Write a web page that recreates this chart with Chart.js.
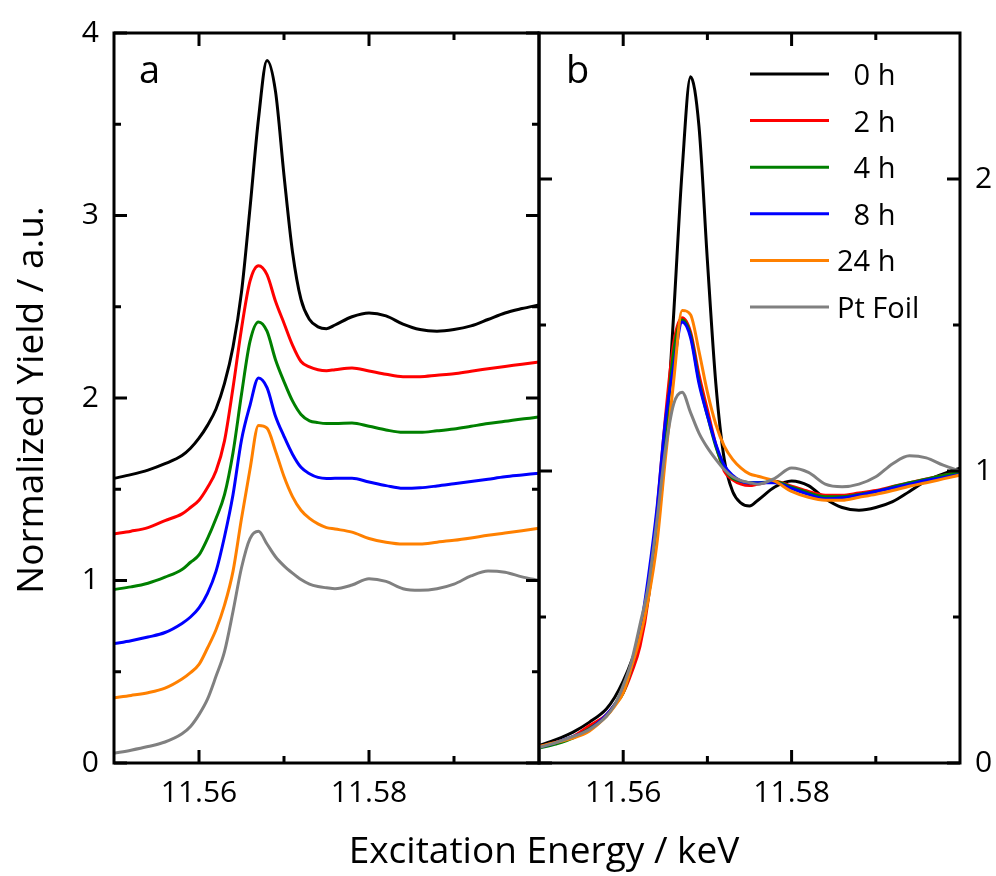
<!DOCTYPE html>
<html>
<head>
<meta charset="utf-8">
<script src="https://cdn.jsdelivr.net/npm/chart.js@4.4.1/dist/chart.umd.min.js"></script>
<style>
  html, body { margin: 0; padding: 0; background: #fff; }
  #wrap { position: relative; width: 996px; height: 876px; }
  #wrap canvas { position: absolute; left: 0; top: 0; }
</style>
</head>
<body>
<div id="wrap">
  <canvas id="chartA" width="996" height="876"></canvas>
  <canvas id="chartB" width="996" height="876"></canvas>
</div>
<script>
// Data (normalized yield vs excitation energy, keV)
const energy = [11.550, 11.552, 11.554, 11.556, 11.558, 11.559, 11.560, 11.561, 11.562, 11.563,
                11.564, 11.565, 11.566, 11.567, 11.568, 11.569, 11.570, 11.571, 11.572, 11.573,
                11.574, 11.575, 11.576, 11.578, 11.580, 11.582, 11.584, 11.586, 11.588, 11.590,
                11.592, 11.594, 11.596, 11.598, 11.600];

const h0    = [0.06, 0.08, 0.105, 0.14, 0.185, 0.225, 0.28, 0.35, 0.44, 0.58,
               0.78, 1.08, 1.54, 2.03, 2.35, 2.18, 1.72, 1.30, 1.04, 0.93,
               0.89, 0.88, 0.90, 0.945, 0.966, 0.95, 0.905, 0.875, 0.866, 0.875,
               0.895, 0.93, 0.966, 0.99, 1.01];
const h2    = [0.055, 0.07, 0.09, 0.128, 0.165, 0.20, 0.24, 0.31, 0.40, 0.565,
               0.856, 1.18, 1.44, 1.525, 1.476, 1.33, 1.21, 1.09, 1.00, 0.97,
               0.955, 0.95, 0.955, 0.965, 0.948, 0.93, 0.917, 0.917, 0.925, 0.933,
               0.947, 0.96, 0.973, 0.985, 0.998];
const h4    = [0.051, 0.065, 0.085, 0.118, 0.16, 0.20, 0.24, 0.33, 0.44, 0.57,
               0.80, 1.12, 1.41, 1.517, 1.466, 1.31, 1.19, 1.084, 1.01, 0.975,
               0.965, 0.96, 0.96, 0.963, 0.945, 0.925, 0.912, 0.912, 0.92, 0.93,
               0.945, 0.96, 0.972, 0.985, 0.996];
const h8    = [0.054, 0.07, 0.09, 0.115, 0.165, 0.20, 0.25, 0.33, 0.45, 0.64,
               0.87, 1.17, 1.36, 1.51, 1.457, 1.30, 1.19, 1.092, 1.02, 0.985,
               0.965, 0.959, 0.96, 0.96, 0.94, 0.92, 0.905, 0.908, 0.918, 0.93,
               0.942, 0.955, 0.968, 0.978, 0.988];
const h24   = [0.057, 0.07, 0.085, 0.11, 0.16, 0.195, 0.24, 0.33, 0.43, 0.565,
               0.75, 1.04, 1.31, 1.55, 1.535, 1.41, 1.27, 1.16, 1.085, 1.04,
               1.01, 0.99, 0.982, 0.965, 0.93, 0.91, 0.90, 0.90, 0.91, 0.92,
               0.933, 0.948, 0.96, 0.973, 0.986];
const ptFoil = [0.053, 0.07, 0.09, 0.115, 0.16, 0.20, 0.265, 0.35, 0.475, 0.61,
                0.83, 1.07, 1.23, 1.27, 1.20, 1.13, 1.08, 1.04, 1.005, 0.98,
                0.967, 0.96, 0.955, 0.975, 1.01, 0.995, 0.955, 0.946, 0.955, 0.98,
                1.025, 1.052, 1.045, 1.02, 1.0];

const seriesLabels = ['0 h', '2 h', '4 h', '8 h', '24 h', 'Pt Foil'];
const seriesValues = [h0, h2, h4, h8, h24, ptFoil];
const stackOffsets = [1.5, 1.2, 0.9, 0.6, 0.3, 0];   // vertical shift used in panel a
const seriesColors = ['#000000', '#ff0000', '#008000', '#0000ff', '#ff8000', '#808080'];

const xTickValues = [11.56, 11.58];
const xMinorValues = [11.57, 11.59];
const yTicksA = [0, 1, 2, 3, 4];
const yMinorA = [0.5, 1.5, 2.5, 3.5];
const yTicksB = [0, 1, 2];
const yMinorB = [0.5, 1.5];

const FONT = '"Open Sans", "DejaVu Sans", sans-serif';

// inward ticks on all four sides + frame
const innerTicks = {
  id: 'innerTicks',
  afterDatasetsDraw(chart, args, o) {
    const { ctx, chartArea: a } = chart;
    const sx = chart.scales.x, sy = chart.scales.y;
    ctx.save();
    ctx.strokeStyle = '#000';
    ctx.lineWidth = 3;
    ctx.beginPath();
    const xMark = (v, len) => {
      const p = sx.getPixelForValue(v);
      ctx.moveTo(p, a.bottom); ctx.lineTo(p, a.bottom - len);
      ctx.moveTo(p, a.top); ctx.lineTo(p, a.top + len);
    };
    const yMark = (v, len) => {
      const p = sy.getPixelForValue(v);
      ctx.moveTo(a.left, p); ctx.lineTo(a.left + len, p);
      ctx.moveTo(a.right, p); ctx.lineTo(a.right - len, p);
    };
    o.xMajor.forEach(v => xMark(v, 13));
    o.xMinor.forEach(v => xMark(v, 7));
    o.yMajor.forEach(v => yMark(v, 13));
    o.yMinor.forEach(v => yMark(v, 7));
    ctx.stroke();
    ctx.strokeRect(a.left, a.top, a.right - a.left, a.bottom - a.top);
    ctx.restore();
  }
};

// panel letter, legend and shared axis titles
const decorations = {
  id: 'decorations',
  afterDraw(chart, args, o) {
    const ctx = chart.ctx;
    ctx.save();
    ctx.fillStyle = '#000';
    ctx.font = '38px ' + FONT;
    ctx.textAlign = 'left';
    ctx.textBaseline = 'alphabetic';
    ctx.fillText(o.letter, o.letterX, 83);

    if (o.legend) {
      ctx.font = '29px ' + FONT;
      const digitW = ctx.measureText('0').width;
      chart.data.datasets.forEach((ds, i) => {
        const yy = 74 + i * 46.6;
        ctx.strokeStyle = ds.borderColor;
        ctx.lineWidth = 3;
        ctx.beginPath();
        ctx.moveTo(750, yy);
        ctx.lineTo(829, yy);
        ctx.stroke();
        const pad = /^\d\s/.test(ds.label) ? digitW : 0;
        ctx.fillText(ds.label, 837 + pad, yy + 11);
      });
    }

    if (o.titles) {
      ctx.font = '37px ' + FONT;
      ctx.textAlign = 'center';
      ctx.fillText('Excitation Energy / keV', 544, 863);
      ctx.translate(43, 400);
      ctx.rotate(-Math.PI / 2);
      ctx.fillText('Normalized Yield / a.u.', 0, 0);
    }
    ctx.restore();
  }
};

function makePanel(id, panel) {
  const datasets = seriesValues.map((vals, i) => ({
    label: seriesLabels[i],
    data: energy.map((e, j) => ({ x: e, y: vals[j] + (panel.stacked ? stackOffsets[i] : 0) })),
    borderColor: seriesColors[i],
    backgroundColor: seriesColors[i],
    borderWidth: 3,
    pointRadius: 0,
    cubicInterpolationMode: 'monotone',
    fill: false,
    order: seriesLabels.length - i
  }));

  const tickFont = { family: FONT, size: 30 };

  return new Chart(document.getElementById(id), {
    type: 'line',
    data: { datasets },
    plugins: [innerTicks, decorations],
    options: {
      responsive: false,
      animation: false,
      devicePixelRatio: 1,
      layout: { padding: { left: panel.padLeft, right: panel.padRight, top: 31, bottom: 0 } },
      plugins: {
        legend: { display: false },
        tooltip: { enabled: false },
        innerTicks: { xMajor: xTickValues, xMinor: xMinorValues, yMajor: panel.yTicks, yMinor: panel.yMinor },
        decorations: { letter: panel.letter, letterX: panel.letterX, legend: panel.legend, titles: panel.titles }
      },
      scales: {
        x: {
          type: 'linear',
          min: 11.55,
          max: 11.60,
          grid: { display: false, drawTicks: false },
          border: { display: false },
          ticks: { font: tickFont, color: '#000', padding: 12, maxRotation: 0, autoSkip: false,
                   callback: v => v.toFixed(2) },
          afterBuildTicks: s => { s.ticks = xTickValues.map(v => ({ value: v })); },
          afterFit: s => { s.height = 113; }
        },
        y: {
          type: 'linear',
          position: panel.yPos,
          min: 0,
          max: panel.yMax,
          grid: { display: false, drawTicks: false },
          border: { display: false },
          ticks: { font: tickFont, color: '#000', padding: 15, callback: v => String(v) },
          afterBuildTicks: s => { s.ticks = panel.yTicks.map(v => ({ value: v })); },
          afterFit: s => { s.width = panel.yWidth; }
        }
      }
    }
  });
}

makePanel('chartA', {
  stacked: true, padLeft: 0, padRight: 457, yPos: 'left', yWidth: 114, yMax: 4,
  yTicks: yTicksA, yMinor: yMinorA, letter: 'a', letterX: 139, legend: false, titles: true
});
makePanel('chartB', {
  stacked: false, padLeft: 539, padRight: 0, yPos: 'right', yWidth: 36, yMax: 2.5,
  yTicks: yTicksB, yMinor: yMinorB, letter: 'b', letterX: 566, legend: true, titles: false
});
</script>
</body>
</html>
